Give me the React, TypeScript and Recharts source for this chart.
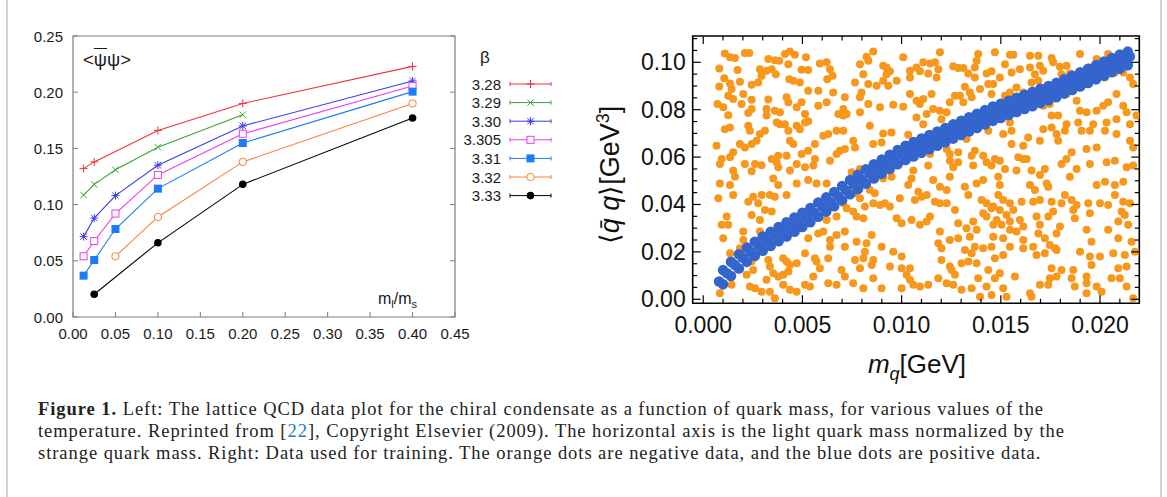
import React from "react";
import { LineChart, Line, XAxis, YAxis, ReferenceArea, ScatterChart, Scatter } from "recharts";

// ---- left panel: lattice data (m_l/m_s vs <psibar psi>) ----
const ratioTicks = [0, 0.05, 0.1, 0.15, 0.2, 0.25, 0.3, 0.35, 0.4, 0.45];
const pbpTicks = [0, 0.05, 0.1, 0.15, 0.2, 0.25];

const betaLabels = ["3.28", "3.29", "3.30", "3.305", "3.31", "3.32", "3.33"];

const ratio328 = [0.0125, 0.025, 0.1, 0.2, 0.4];
const pbp328 = [0.132, 0.138, 0.166, 0.19, 0.223];
const ratio329 = [0.0125, 0.025, 0.05, 0.1, 0.2];
const pbp329 = [0.1085, 0.118, 0.131, 0.151, 0.18];
const ratio330 = [0.0125, 0.025, 0.05, 0.1, 0.2, 0.4];
const pbp330 = [0.0715, 0.088, 0.108, 0.135, 0.17, 0.21];
const ratio3305 = [0.0125, 0.025, 0.05, 0.1, 0.2, 0.4];
const pbp3305 = [0.054, 0.0676, 0.092, 0.1264, 0.163, 0.2055];
const ratio331 = [0.0125, 0.025, 0.05, 0.1, 0.2, 0.4];
const pbp331 = [0.0368, 0.0507, 0.0783, 0.1142, 0.1548, 0.2005];
const ratio332 = [0.05, 0.1, 0.2, 0.4];
const pbp332 = [0.054, 0.089, 0.138, 0.19];
const ratio333 = [0.025, 0.1, 0.2, 0.4];
const pbp333 = [0.0202, 0.066, 0.118, 0.177];

// ---- right panel: training data (m_q vs <qbar q>) ----
const mqTicks = [0, 0.001, 0.002, 0.003, 0.004, 0.005, 0.006, 0.007, 0.008, 0.009, 0.01, 0.011, 0.012, 0.013, 0.014, 0.015, 0.016, 0.017, 0.018, 0.019, 0.02, 0.021];
const mqMajor = [0, 0.005, 0.01, 0.015, 0.02];
const qqTicks = [0, 0.005, 0.01, 0.015, 0.02, 0.025, 0.03, 0.035, 0.04, 0.045, 0.05, 0.055, 0.06, 0.065, 0.07, 0.075, 0.08, 0.085, 0.09, 0.095, 0.1, 0.105, 0.11];
const qqMajor = [0, 0.02, 0.04, 0.06, 0.08, 0.1];

// negative (orange) points, [m_q, <qq>]
const negativeUpperLeft = [
  [0.00109, 0.1037], [0.00135, 0.1021], [0.0016, 0.1018], [0.0021, 0.1039], [0.00232, 0.1039], [0.00081, 0.0974],
  [0.00173, 0.0967], [0.00106, 0.0933], [0.00135, 0.0911], [0.00185, 0.0918], [0.00244, 0.0905], [0.00081, 0.0898],
  [0.00143, 0.0887], [0.00126, 0.0859], [0.00151, 0.0845], [0.00202, 0.0866], [0.00193, 0.0824], [0.00072, 0.0824],
  [0.00101, 0.081], [0.00244, 0.0842], [0.00126, 0.0777], [0.00227, 0.0786], [0.00244, 0.0803], [0.00328, 0.0843],
  [0.00319, 0.0803], [0.00361, 0.0796], [0.00387, 0.0789], [0.0037, 0.0746], [0.00319, 0.0775], [0.0042, 0.0852],
  [0.00429, 0.0831], [0.00471, 0.081], [0.00496, 0.0831], [0.00513, 0.0782], [0.00529, 0.0751], [0.00487, 0.0718],
  [0.00286, 0.0971], [0.00294, 0.0943], [0.00277, 0.0915], [0.00319, 0.0964], [0.00345, 0.0971], [0.00366, 0.095],
  [0.00328, 0.1014], [0.00361, 0.1009], [0.00383, 0.1007], [0.00412, 0.1035], [0.00437, 0.1046], [0.00462, 0.1032],
  [0.00429, 0.0992], [0.00518, 0.1021], [0.00496, 0.0969], [0.00529, 0.0967], [0.00434, 0.0929], [0.00454, 0.0922],
  [0.00487, 0.0915], [0.00529, 0.088], [0.00588, 0.0995], [0.00622, 0.1], [0.00639, 0.0971], [0.00652, 0.0943],
  [0.00625, 0.0929], [0.0058, 0.088], [0.00622, 0.0831], [0.0058, 0.0817], [0.00655, 0.0873], [0.00681, 0.0782],
  [0.00706, 0.0775], [0.00672, 0.0711], [0.0063, 0.0697], [0.00605, 0.069], [0.00706, 0.0711], [0.00689, 0.0627],
  [0.00563, 0.0655], [0.00529, 0.0627], [0.00496, 0.0613], [0.00454, 0.0655], [0.00437, 0.0669], [0.00429, 0.0711],
  [0.00412, 0.0739], [0.00471, 0.0732], [0.00513, 0.0746], [0.00387, 0.0739], [0.00311, 0.0711], [0.00286, 0.0697],
  [0.00269, 0.0669], [0.00244, 0.0655], [0.0021, 0.0641], [0.00185, 0.0655], [0.00151, 0.062], [0.00109, 0.0718],
  [0.00135, 0.0725], [0.00227, 0.0732], [0.00235, 0.0711], [0.00093, 0.0592], [0.00084, 0.0571], [0.00135, 0.0599],
  [0.0021, 0.0571], [0.00261, 0.0571], [0.00294, 0.0566], [0.00345, 0.0592], [0.0037, 0.0578], [0.00378, 0.0606],
  [0.0042, 0.0606], [0.00471, 0.0571], [0.00513, 0.0557], [0.00563, 0.0592], [0.00555, 0.0564], [0.00639, 0.0585],
  [0.00672, 0.0613], [0.00067, 0.0648], [0.00151, 0.0543], [0.00244, 0.054], [0.00378, 0.0557], [0.00437, 0.0543],
];
const negativeUpperMiddle = [
  [0.00857, 0.1046], [0.00823, 0.1023], [0.00832, 0.1007], [0.0079, 0.0992], [0.00907, 0.0985], [0.00924, 0.0978],
  [0.00941, 0.0962], [0.01008, 0.1021], [0.01193, 0.1042], [0.01109, 0.1], [0.01143, 0.0995], [0.01168, 0.1],
  [0.01185, 0.0971], [0.01075, 0.0978], [0.01092, 0.0962], [0.01042, 0.0964], [0.01042, 0.0936], [0.01134, 0.0953],
  [0.01176, 0.0936], [0.0126, 0.0983], [0.01285, 0.0976], [0.01311, 0.0976], [0.01369, 0.0978], [0.01386, 0.1035],
  [0.01378, 0.1007], [0.01336, 0.0953], [0.01369, 0.0936], [0.01428, 0.0953], [0.01453, 0.0962], [0.00765, 0.0915],
  [0.00807, 0.095], [0.00832, 0.0908], [0.00874, 0.0901], [0.00907, 0.0922], [0.00933, 0.0901], [0.00975, 0.0922],
  [0.00924, 0.095], [0.00798, 0.0873], [0.0079, 0.0852], [0.00714, 0.0852], [0.00706, 0.0803], [0.00723, 0.0782],
  [0.0079, 0.0789], [0.00832, 0.0824], [0.00891, 0.081], [0.00958, 0.0821], [0.01008, 0.0812], [0.01042, 0.0866],
  [0.01075, 0.0838], [0.01092, 0.0824], [0.01151, 0.0866], [0.01109, 0.0845], [0.01159, 0.0803], [0.01193, 0.0796],
  [0.01227, 0.0789], [0.01243, 0.0831], [0.01269, 0.0859], [0.01294, 0.0859], [0.01319, 0.0897], [0.01344, 0.0873],
  [0.01353, 0.0852], [0.01311, 0.0831], [0.01395, 0.0887], [0.01437, 0.0908], [0.01453, 0.0866], [0.01075, 0.0767],
  [0.01109, 0.0739], [0.01126, 0.0782], [0.01201, 0.076], [0.0084, 0.0732], [0.00907, 0.07], [0.00949, 0.0704],
  [0.01033, 0.0694], [0.00756, 0.0669], [0.00765, 0.0641], [0.00714, 0.0634], [0.00857, 0.0655], [0.00899, 0.0662],
  [0.01159, 0.0658], [0.01227, 0.0634], [0.01243, 0.0613], [0.01285, 0.062], [0.01327, 0.0676], [0.01294, 0.0697],
  [0.01378, 0.0739], [0.01437, 0.0711], [0.01369, 0.0627], [0.01353, 0.0606], [0.01411, 0.0606], [0.01428, 0.0578],
  [0.01453, 0.0564], [0.01075, 0.062], [0.01143, 0.0613], [0.01134, 0.0564], [0.01059, 0.0543], [0.00941, 0.0543],
  [0.0079, 0.055], [0.00748, 0.0536], [0.01243, 0.0585], [0.01285, 0.0578], [0.01361, 0.0564], [0.0126, 0.0557],
];
const negativeUpperRight = [
  [0.0147, 0.1042], [0.01546, 0.1032], [0.01563, 0.1032], [0.01521, 0.0992], [0.01495, 0.0936], [0.01462, 0.0908],
  [0.01554, 0.0957], [0.01596, 0.0971], [0.01647, 0.1028], [0.01689, 0.1028], [0.01647, 0.0978], [0.01672, 0.095],
  [0.01697, 0.0985], [0.01714, 0.0964], [0.01655, 0.0915], [0.01689, 0.0922], [0.01756, 0.1018], [0.01764, 0.1],
  [0.01798, 0.0981], [0.01831, 0.0985], [0.01806, 0.095], [0.01848, 0.0953], [0.01899, 0.1035], [0.01949, 0.0978],
  [0.01983, 0.1014], [0.02008, 0.1], [0.01983, 0.095], [0.02041, 0.1035], [0.02075, 0.0957], [0.02025, 0.0936],
  [0.02117, 0.0957], [0.02151, 0.0936], [0.02167, 0.0908], [0.01579, 0.0894], [0.01546, 0.0873], [0.01613, 0.0873],
  [0.01521, 0.0859], [0.01672, 0.0838], [0.01714, 0.0817], [0.01747, 0.0824], [0.01756, 0.0775], [0.01789, 0.0775],
  [0.01831, 0.0866], [0.01882, 0.0838], [0.01924, 0.0908], [0.01899, 0.0796], [0.0189, 0.0746], [0.01831, 0.0739],
  [0.01823, 0.0711], [0.01781, 0.0697], [0.01789, 0.0669], [0.01714, 0.0718], [0.01697, 0.0669], [0.01638, 0.0683],
  [0.01932, 0.0789], [0.01983, 0.0796], [0.02016, 0.0817], [0.02041, 0.0831], [0.02083, 0.0866], [0.02117, 0.0817],
  [0.02134, 0.0789], [0.02151, 0.0739], [0.02083, 0.076], [0.02033, 0.0746], [0.02025, 0.0711], [0.01966, 0.0739],
  [0.01949, 0.0711], [0.01907, 0.0711], [0.02083, 0.0697], [0.02151, 0.0669], [0.01546, 0.0746], [0.01554, 0.0711],
  [0.01512, 0.0697], [0.01554, 0.0655], [0.01613, 0.0648], [0.01613, 0.0592], [0.01588, 0.0599], [0.0163, 0.0592],
  [0.0147, 0.0592], [0.01495, 0.0585], [0.01579, 0.0543], [0.01521, 0.055], [0.01655, 0.0543], [0.01722, 0.055],
  [0.01806, 0.0571], [0.01831, 0.0592], [0.01857, 0.062], [0.01882, 0.055], [0.01932, 0.0634], [0.01983, 0.0641],
  [0.01949, 0.0571], [0.02033, 0.0578], [0.02075, 0.0585], [0.02134, 0.0557], [0.02167, 0.0564], [0.02167, 0.0641],
  [0.02184, 0.0775], [0.01756, 0.0725],
];
const negativeLowerLeft = [
  [0.0016, 0.0517], [0.00084, 0.0489], [0.00135, 0.0482], [0.00151, 0.044], [0.00353, 0.051], [0.00378, 0.0482],
  [0.00471, 0.0489], [0.00529, 0.0503], [0.00571, 0.0489], [0.00622, 0.0489], [0.00076, 0.0426], [0.00227, 0.0412],
  [0.00252, 0.0433], [0.00294, 0.044], [0.00336, 0.044], [0.00361, 0.0433], [0.0042, 0.044], [0.00277, 0.0405],
  [0.00311, 0.0377], [0.00345, 0.037], [0.00244, 0.0356], [0.00286, 0.0335], [0.00118, 0.0349], [0.00093, 0.0314],
  [0.00126, 0.0314], [0.00202, 0.0286], [0.00202, 0.025], [0.00101, 0.0257], [0.00185, 0.0215], [0.00193, 0.0201],
  [0.00135, 0.0194], [0.00286, 0.0286], [0.00378, 0.0286], [0.00529, 0.0257], [0.0058, 0.0278], [0.00605, 0.0286],
  [0.00639, 0.025], [0.00672, 0.0271], [0.00672, 0.0349], [0.00622, 0.0335], [0.00462, 0.0293], [0.00487, 0.03],
  [0.00328, 0.0166], [0.00336, 0.0138], [0.00353, 0.011], [0.00378, 0.0096], [0.00403, 0.0103], [0.00429, 0.0117],
  [0.00403, 0.0173], [0.0042, 0.0159], [0.00437, 0.0145], [0.00471, 0.0152], [0.00513, 0.0194], [0.00563, 0.0173],
  [0.00571, 0.0159], [0.00588, 0.0131], [0.00555, 0.0096], [0.00513, 0.0061], [0.00538, 0.0054], [0.0063, 0.0068],
  [0.00672, 0.0061], [0.00697, 0.0124], [0.00639, 0.0222], [0.0063, 0.0173], [0.00244, 0.0159], [0.00252, 0.0124],
  [0.00235, 0.0054], [0.00261, 0.0047], [0.00294, 0.0032], [0.00336, 0.0032], [0.00361, 0.0004], [0.00403, 0.0061],
  [0.00437, 0.004], [0.00471, 0.0032], [0.00084, 0.0025], [0.00143, 0.0061], [0.00219, 0.0103], [0.00319, 0.0082],
];
const negativeLowerMiddle = [
  [0.00765, 0.0447], [0.0079, 0.0426], [0.00706, 0.0405], [0.00723, 0.0384], [0.00756, 0.037], [0.00773, 0.0349],
  [0.00807, 0.0342], [0.00815, 0.0391], [0.00857, 0.0405], [0.00891, 0.0398], [0.00916, 0.0405], [0.00941, 0.0391],
  [0.0084, 0.0461], [0.00865, 0.0447], [0.00907, 0.051], [0.00949, 0.0517], [0.01033, 0.0482], [0.01084, 0.0454],
  [0.01126, 0.044], [0.01067, 0.0419], [0.01101, 0.0433], [0.01168, 0.0412], [0.01193, 0.0405], [0.01227, 0.0405],
  [0.01269, 0.0377], [0.01285, 0.0321], [0.01327, 0.03], [0.01361, 0.0328], [0.01378, 0.0293], [0.01344, 0.0264],
  [0.01336, 0.044], [0.01403, 0.0419], [0.01428, 0.0405], [0.01453, 0.0384], [0.01411, 0.0363], [0.01428, 0.0349],
  [0.01462, 0.0314], [0.00991, 0.0426], [0.0105, 0.051], [0.01159, 0.0503], [0.01193, 0.0475], [0.01227, 0.0461],
  [0.01243, 0.0517], [0.01319, 0.0475], [0.01378, 0.0489], [0.01411, 0.0503], [0.00975, 0.0342], [0.01, 0.0321],
  [0.0105, 0.0335], [0.01092, 0.0314], [0.01126, 0.0328], [0.01143, 0.0349], [0.01193, 0.0286], [0.01185, 0.0236],
  [0.01201, 0.0215], [0.01243, 0.025], [0.01285, 0.0257], [0.01201, 0.0166], [0.01243, 0.0138], [0.01252, 0.0124],
  [0.01269, 0.0103], [0.01302, 0.0152], [0.01336, 0.0159], [0.01378, 0.0152], [0.01353, 0.0194], [0.01319, 0.0208],
  [0.01369, 0.0222], [0.01411, 0.0215], [0.01453, 0.0222], [0.01437, 0.0124], [0.01386, 0.0089], [0.01428, 0.0054],
  [0.01395, 0.0011], [0.01353, 0.0047], [0.01302, 0.004], [0.0126, 0.0061], [0.01227, 0.0068], [0.01185, 0.0089],
  [0.01134, 0.0061], [0.01092, 0.0054], [0.01059, 0.0061], [0.01042, 0.0082], [0.01042, 0.0131], [0.01, 0.0131],
  [0.01025, 0.0103], [0.01, 0.0047], [0.00941, 0.0138], [0.00958, 0.0201], [0.01, 0.018], [0.00899, 0.0222],
  [0.00849, 0.0271], [0.00823, 0.0236], [0.00815, 0.0201], [0.00807, 0.0173], [0.00849, 0.0145], [0.00857, 0.0166],
  [0.00773, 0.0243], [0.00714, 0.0286], [0.00714, 0.0222], [0.00765, 0.0166], [0.0079, 0.0131], [0.00714, 0.0096],
  [0.00756, 0.0068], [0.00807, 0.0047], [0.00857, 0.0089], [0.00899, 0.0047],
];
const negativeLowerRight = [
  [0.01487, 0.0517], [0.01495, 0.0482], [0.01697, 0.0524], [0.01731, 0.0489], [0.01739, 0.0475], [0.01647, 0.0482],
  [0.01672, 0.0461], [0.01848, 0.0517], [0.01823, 0.044], [0.01857, 0.0419], [0.01882, 0.0398], [0.01806, 0.0405],
  [0.01756, 0.0412], [0.01663, 0.0412], [0.01697, 0.0419], [0.01605, 0.0412], [0.01546, 0.0405], [0.01487, 0.044],
  [0.01512, 0.0419], [0.01462, 0.0391], [0.01495, 0.0377], [0.01529, 0.0356], [0.01563, 0.0377], [0.01479, 0.0335],
  [0.01546, 0.0328], [0.01596, 0.0335], [0.01613, 0.0307], [0.01579, 0.0286], [0.01613, 0.025], [0.0168, 0.0349],
  [0.01697, 0.0314], [0.01689, 0.0278], [0.01739, 0.0349], [0.01764, 0.037], [0.01798, 0.0307], [0.01781, 0.0278],
  [0.01873, 0.0342], [0.01865, 0.0377], [0.01932, 0.0293], [0.01941, 0.0405], [0.01949, 0.0363], [0.02, 0.0405],
  [0.01983, 0.0482], [0.02025, 0.0496], [0.02075, 0.0482], [0.02117, 0.0496], [0.02075, 0.044], [0.02041, 0.0398],
  [0.02117, 0.0412], [0.02151, 0.0405], [0.02109, 0.037], [0.02125, 0.0356], [0.02092, 0.0328], [0.02142, 0.0314],
  [0.02041, 0.0293], [0.02092, 0.0257], [0.02159, 0.0243], [0.02067, 0.0194], [0.02125, 0.0187], [0.02176, 0.0201],
  [0.02, 0.018], [0.01949, 0.018], [0.01899, 0.0201], [0.01957, 0.0243], [0.01781, 0.0208], [0.01722, 0.0257],
  [0.01747, 0.0229], [0.01773, 0.0215], [0.01722, 0.0194], [0.0168, 0.0187], [0.01663, 0.0222], [0.01613, 0.0215],
  [0.01546, 0.0222], [0.01512, 0.0187], [0.0147, 0.0173], [0.01462, 0.0264], [0.01512, 0.0257], [0.01546, 0.0293],
  [0.01504, 0.0314], [0.01756, 0.0131], [0.01747, 0.0089], [0.01739, 0.0061], [0.01781, 0.0096], [0.01806, 0.0124],
  [0.01865, 0.0124], [0.01857, 0.0089], [0.01932, 0.0096], [0.01932, 0.0068], [0.01957, 0.0145], [0.01983, 0.0054],
  [0.02058, 0.0089], [0.021, 0.0089], [0.02092, 0.0131], [0.02134, 0.0138], [0.02134, 0.0054], [0.02167, 0.0004],
  [0.02008, 0.0032], [0.01932, 0.0025], [0.01873, 0.0054], [0.01697, 0.0061], [0.01647, 0.0025], [0.01655, 0.0011],
  [0.01571, 0.0096], [0.01512, 0.0047], [0.01529, 0.0011], [0.0147, 0.0089], [0.01495, 0.011], [0.01453, 0.0018],
];

// positive (blue) band: centre row and the two edge rows
const positiveCenterX = [
  0.0008, 0.0012, 0.0016, 0.002, 0.0024, 0.0028, 0.0032, 0.0036, 0.004, 0.0044, 0.0048, 0.0052, 0.0056, 0.006,
  0.0064, 0.0068, 0.0072, 0.0076, 0.008, 0.0084, 0.0088, 0.0092, 0.0096, 0.01, 0.0104, 0.0108, 0.0112, 0.0116,
  0.012, 0.0124, 0.0128, 0.0132, 0.0136, 0.014, 0.0144, 0.0148, 0.0152, 0.0156, 0.016, 0.0164, 0.0168, 0.0172,
  0.0176, 0.018, 0.0184, 0.0188, 0.0192, 0.0196, 0.02, 0.0204, 0.0208, 0.0212, 0.0215,
];
const positiveCenterY = [
  0.0075, 0.011, 0.0145, 0.0175, 0.02, 0.0225, 0.0245, 0.0265, 0.0285, 0.0305, 0.0325, 0.0345, 0.0365, 0.039,
  0.041, 0.0435, 0.046, 0.0485, 0.0505, 0.053, 0.055, 0.057, 0.059, 0.061, 0.0625, 0.064, 0.0655, 0.067,
  0.0685, 0.07, 0.0715, 0.073, 0.0745, 0.076, 0.0775, 0.079, 0.08, 0.0815, 0.0825, 0.084, 0.085, 0.0865,
  0.0875, 0.089, 0.0905, 0.092, 0.0935, 0.095, 0.0965, 0.098, 0.0995, 0.101, 0.1025,
];
const positiveEdgeX = [
  0.001, 0.0014, 0.0018, 0.0022, 0.0026, 0.003, 0.0034, 0.0038, 0.0042, 0.0046, 0.005, 0.0054, 0.0058, 0.0062,
  0.0066, 0.007, 0.0074, 0.0078, 0.0082, 0.0086, 0.009, 0.0094, 0.0098, 0.0102, 0.0106, 0.011, 0.0114, 0.0118,
  0.0122, 0.0126, 0.013, 0.0134, 0.0138, 0.0142, 0.0146, 0.015, 0.0154, 0.0158, 0.0162, 0.0166, 0.017, 0.0174,
  0.0178, 0.0182, 0.0186, 0.019, 0.0194, 0.0198, 0.0202, 0.0206, 0.021, 0.0214,
];
const positiveUpperY = [
  0.0123, 0.0158, 0.019, 0.0218, 0.0243, 0.0265, 0.0285, 0.0305, 0.0325, 0.0345, 0.0365, 0.0385, 0.0408, 0.043,
  0.0453, 0.0478, 0.0503, 0.0525, 0.0548, 0.057, 0.059, 0.061, 0.063, 0.0648, 0.0663, 0.0678, 0.0693, 0.0708,
  0.0723, 0.0738, 0.0753, 0.0768, 0.0783, 0.0798, 0.0813, 0.0825, 0.0838, 0.085, 0.0863, 0.0875, 0.0888, 0.09,
  0.0913, 0.0928, 0.0943, 0.0958, 0.0973, 0.0988, 0.1003, 0.1018, 0.1033, 0.1045,
];
const positiveLowerY = [
  0.0063, 0.0098, 0.013, 0.0158, 0.0183, 0.0205, 0.0225, 0.0245, 0.0265, 0.0285, 0.0305, 0.0325, 0.0348, 0.037,
  0.0393, 0.0418, 0.0443, 0.0465, 0.0488, 0.051, 0.053, 0.055, 0.057, 0.0588, 0.0603, 0.0618, 0.0633, 0.0648,
  0.0663, 0.0678, 0.0693, 0.0708, 0.0723, 0.0738, 0.0753, 0.0765, 0.0778, 0.079, 0.0803, 0.0815, 0.0828, 0.084,
  0.0853, 0.0868, 0.0883, 0.0898, 0.0913, 0.0928, 0.0943, 0.0958, 0.0973, 0.0988,
];

const toPoints = (xs: number[], ys: number[]) => xs.map((x, i) => ({ x, y: ys[i] }));
const toObjs = (arr: number[][]) => arr.map(([x, y]) => ({ x, y }));

const latticeSeries = [
  { name: betaLabels[0], color: "#f2313b", marker: "plus", data: toPoints(ratio328, pbp328) },
  { name: betaLabels[1], color: "#3aa33a", marker: "cross", data: toPoints(ratio329, pbp329) },
  { name: betaLabels[2], color: "#3b3bef", marker: "star", data: toPoints(ratio330, pbp330) },
  { name: betaLabels[3], color: "#f03cf0", marker: "openSquare", data: toPoints(ratio3305, pbp3305) },
  { name: betaLabels[4], color: "#1f7bf5", marker: "square", data: toPoints(ratio331, pbp331) },
  { name: betaLabels[5], color: "#f7803a", marker: "openCircle", data: toPoints(ratio332, pbp332) },
  { name: betaLabels[6], color: "#000000", marker: "circle", data: toPoints(ratio333, pbp333) },
];

const negativeData = toObjs([
  ...negativeUpperLeft, ...negativeUpperMiddle, ...negativeUpperRight,
  ...negativeLowerLeft, ...negativeLowerMiddle, ...negativeLowerRight,
]);
const positiveData = [
  ...toPoints(positiveEdgeX, positiveLowerY),
  ...toPoints(positiveCenterX, positiveCenterY),
  ...toPoints(positiveEdgeX, positiveUpperY),
];

const GNU_FONT = "'Liberation Sans', Arial, sans-serif";
const GNU_FRAME = "#7d7d7d";
const L_PW = 382;
const M_PW = 446.6;
const M_PH = 267.3;

function Marker({ kind, cx, cy, color }: any) {
  if (cx == null || cy == null) return null;
  const s = 4;
  const d = 3.2;
  if (kind === "plus")
    return (
      <g stroke={color} strokeWidth={1}>
        <line x1={cx - s} x2={cx + s} y1={cy} y2={cy} />
        <line x1={cx} x2={cx} y1={cy - s} y2={cy + s} />
      </g>
    );
  if (kind === "cross")
    return (
      <g stroke={color} strokeWidth={1}>
        <line x1={cx - d} x2={cx + d} y1={cy - d} y2={cy + d} />
        <line x1={cx - d} x2={cx + d} y1={cy + d} y2={cy - d} />
      </g>
    );
  if (kind === "star")
    return (
      <g stroke={color} strokeWidth={1}>
        <line x1={cx - s} x2={cx + s} y1={cy} y2={cy} />
        <line x1={cx} x2={cx} y1={cy - s} y2={cy + s} />
        <line x1={cx - d} x2={cx + d} y1={cy - d} y2={cy + d} />
        <line x1={cx - d} x2={cx + d} y1={cy + d} y2={cy - d} />
      </g>
    );
  if (kind === "openSquare")
    return <rect x={cx - 3.5} y={cy - 3.5} width={7} height={7} fill="#fff" stroke={color} strokeWidth={1} />;
  if (kind === "square") return <rect x={cx - 4} y={cy - 4} width={8} height={8} fill={color} />;
  if (kind === "openCircle") return <circle cx={cx} cy={cy} r={3.7} fill="#fff" stroke={color} strokeWidth={1} />;
  return <circle cx={cx} cy={cy} r={3.8} fill={color} />;
}

const LatticeYTick = ({ x, y, payload }: any) => (
  <g>
    <line x1={x} x2={x + 5} y1={y} y2={y} stroke={GNU_FRAME} />
    <line x1={x + L_PW} x2={x + L_PW - 5} y1={y} y2={y} stroke={GNU_FRAME} />
    <text x={x - 10} y={y} textAnchor="end" dominantBaseline="central" fontSize={15} fontFamily={GNU_FONT} fill="#1a1a1a">
      {payload.value.toFixed(2)}
    </text>
  </g>
);

const LatticeXTick = ({ x, y, payload }: any) => (
  <g>
    <line x1={x} x2={x} y1={y} y2={y - 5} stroke={GNU_FRAME} />
    <text x={x} y={y + 16} textAnchor="middle" dominantBaseline="central" fontSize={15} fontFamily={GNU_FONT} fill="#1a1a1a">
      {payload.value.toFixed(2)}
    </text>
  </g>
);

const MathYTick = ({ x, y, payload }: any) => {
  const major = qqMajor.includes(payload.value);
  const len = major ? 8 : 4.5;
  return (
    <g>
      <line x1={x} x2={x + len} y1={y} y2={y} stroke="#000" strokeWidth={1.2} />
      <line x1={x + M_PW} x2={x + M_PW - len} y1={y} y2={y} stroke="#000" strokeWidth={1.2} />
      {major && (
        <text x={x - 7} y={y} textAnchor="end" dominantBaseline="central" fontSize={23} fontFamily={GNU_FONT} fill="#111">
          {payload.value.toFixed(2)}
        </text>
      )}
    </g>
  );
};

const MathXTick = ({ x, y, payload }: any) => {
  const major = mqMajor.includes(payload.value);
  const len = major ? 8 : 4.5;
  return (
    <g>
      <line x1={x} x2={x} y1={y} y2={y - len} stroke="#000" strokeWidth={1.2} />
      <line x1={x} x2={x} y1={y - M_PH} y2={y - M_PH + len} stroke="#000" strokeWidth={1.2} />
      {major && (
        <text x={x} y={y + 22} textAnchor="middle" dominantBaseline="central" fontSize={23} fontFamily={GNU_FONT} fill="#111">
          {payload.value.toFixed(3)}
        </text>
      )}
    </g>
  );
};

function LatticeLegend() {
  const rowY = [84, 102.6, 121.2, 139.8, 158.4, 177, 195.6];
  return (
    <svg width={120} height={150} style={{ position: "absolute", left: 450, top: 60 }}>
      {latticeSeries.map((s, i) => {
        const y = rowY[i] - 60;
        return (
          <g key={s.name}>
            <text x={51} y={y} textAnchor="end" dominantBaseline="central" fontSize={15} fontFamily={GNU_FONT} fill="#1a1a1a">
              {s.name}
            </text>
            <g stroke={s.color} strokeWidth={1}>
              <line x1={60} x2={101} y1={y} y2={y} />
              <line x1={60} x2={60} y1={y - 2} y2={y + 2} />
              <line x1={101} x2={101} y1={y - 2} y2={y + 2} />
            </g>
            <Marker kind={s.marker} cx={80.5} cy={y} color={s.color} />
          </g>
        );
      })}
    </svg>
  );
}

export default function App() {
  return (
    <div style={{ position: "absolute", left: 0, top: 0, width: 1167, height: 497, background: "#fff", overflow: "hidden" }}>
      <div style={{ position: "absolute", left: 6, top: 0, width: 2, height: 497, background: "#d3d3d3" }} />
      <div style={{ position: "absolute", left: 1160, top: 0, width: 2, height: 497, background: "#d3d3d3" }} />

      {/* left panel */}
      <div style={{ position: "absolute", left: 0, top: 0 }}>
        <LineChart width={560} height={350} margin={{ top: 36, right: 105, bottom: 3, left: 13 }}>
          <XAxis
            dataKey="x"
            type="number"
            domain={[0, 0.45]}
            ticks={ratioTicks}
            interval={0}
            allowDataOverflow
            axisLine={false}
            tickLine={false}
            tickSize={0}
            tickMargin={0}
            height={30}
            tick={<LatticeXTick />}
          />
          <YAxis
            type="number"
            domain={[0, 0.25]}
            ticks={pbpTicks}
            interval={0}
            allowDataOverflow
            axisLine={false}
            tickLine={false}
            tickSize={0}
            tickMargin={0}
            width={60}
            tick={<LatticeYTick />}
          />
          <ReferenceArea x1={0} x2={0.45} y1={0} y2={0.25} fill="none" stroke={GNU_FRAME} strokeWidth={1.2} />
          {latticeSeries.map((s) => (
            <Line
              key={s.name}
              data={s.data}
              dataKey="y"
              type="linear"
              stroke={s.color}
              strokeWidth={1.1}
              isAnimationActive={false}
              dot={(p: any) => <Marker key={`${s.name}-${p.index}`} kind={s.marker} cx={p.cx} cy={p.cy} color={s.color} />}
              activeDot={false}
            />
          ))}
        </LineChart>
      </div>
      <div style={{ position: "absolute", left: 83, top: 49, fontFamily: GNU_FONT, fontSize: 18.5, lineHeight: "22px", color: "#1a1a1a", whiteSpace: "nowrap" }}>
        &lt;<span style={{ textDecoration: "overline" }}>ψ</span>ψ&gt;
      </div>
      <div style={{ position: "absolute", left: 378, top: 289, fontFamily: GNU_FONT, fontSize: 16, lineHeight: "20px", color: "#1a1a1a", whiteSpace: "nowrap" }}>
        m<sub style={{ fontSize: 11 }}>l</sub>/m<sub style={{ fontSize: 11 }}>s</sub>
      </div>
      <div style={{ position: "absolute", left: 480, top: 48, fontFamily: GNU_FONT, fontSize: 17, lineHeight: "20px", color: "#1a1a1a" }}>β</div>
      <LatticeLegend />

      {/* right panel */}
      <div style={{ position: "absolute", left: 600, top: 0 }}>
        <ScatterChart width={560} height={400} margin={{ top: 36, right: 20.7, bottom: 56.7, left: 12.7 }}>
          <XAxis
            dataKey="x"
            type="number"
            domain={[-0.00053, 0.02198]}
            ticks={mqTicks}
            interval={0}
            allowDataOverflow
            axisLine={false}
            tickLine={false}
            tickSize={0}
            tickMargin={0}
            height={40}
            tick={<MathXTick />}
          />
          <YAxis
            dataKey="y"
            type="number"
            domain={[-0.0017, 0.1111]}
            ticks={qqTicks}
            interval={0}
            allowDataOverflow
            axisLine={false}
            tickLine={false}
            tickSize={0}
            tickMargin={0}
            width={80}
            tick={<MathYTick />}
          />
          <Scatter
            data={negativeData}
            isAnimationActive={false}
            shape={(p: any) => <circle cx={p.cx} cy={p.cy} r={4} fill="#f7981d" />}
          />
          <Scatter
            data={positiveData}
            isAnimationActive={false}
            shape={(p: any) => <circle cx={p.cx} cy={p.cy} r={5.3} fill="#3465cc" />}
          />
          <ReferenceArea x1={-0.00053} x2={0.02198} y1={-0.0017} y2={0.1111} fill="none" stroke="#000" strokeWidth={1.6} />
        </ScatterChart>
      </div>
      <div
        style={{
          position: "absolute", left: 917, top: 367, transform: "translate(-50%, -50%)",
          fontFamily: GNU_FONT, fontSize: 26, color: "#111", whiteSpace: "nowrap",
        }}
      >
        <i>m</i><sub style={{ fontSize: 18, fontStyle: "italic" }}>q</sub>[GeV]
      </div>
      <div
        style={{
          position: "absolute", left: 609, top: 175, transform: "translate(-50%, -50%) rotate(-90deg)",
          fontFamily: GNU_FONT, fontSize: 27, color: "#111", whiteSpace: "nowrap",
        }}
      >
        ⟨<i>q̄</i>&nbsp;<i>q</i>⟩[GeV<sup style={{ fontSize: 18 }}>3</sup>]
      </div>

      {/* caption */}
      <div
        style={{
          position: "absolute", left: 38, top: 398, fontFamily: "'Liberation Serif', 'Times New Roman', serif",
          fontSize: 18.5, lineHeight: "22px", letterSpacing: 0.95, color: "#222",
        }}
      >
        <div style={{ whiteSpace: "nowrap" }}>
          <b>Figure 1.</b> Left: The lattice QCD data plot for the chiral condensate as a function of quark mass, for various values of the
        </div>
        <div style={{ whiteSpace: "nowrap" }}>
          temperature. Reprinted from [<span style={{ color: "#2b7bb9" }}>22</span>], Copyright Elsevier (2009). The horizontal axis is the light quark mass normalized by the
        </div>
        <div style={{ whiteSpace: "nowrap" }}>
          strange quark mass. Right: Data used for training. The orange dots are negative data, and the blue dots are positive data.
        </div>
      </div>
    </div>
  );
}
